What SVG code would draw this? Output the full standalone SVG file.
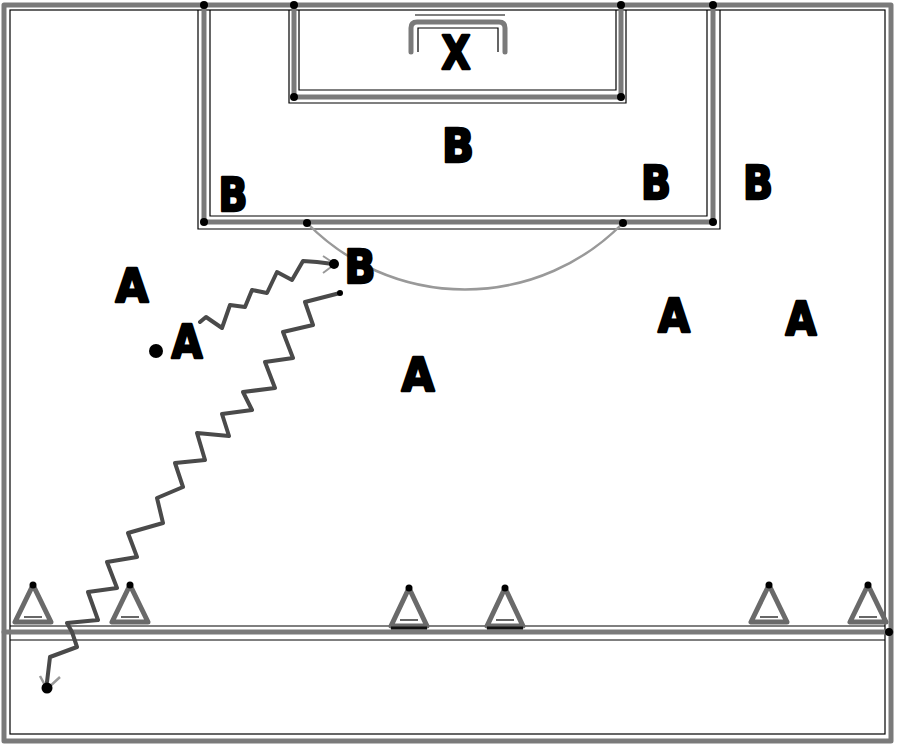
<svg xmlns="http://www.w3.org/2000/svg" width="900" height="747" viewBox="0 0 900 747">
<style>
.g{fill:none;stroke:#7a7a7a;stroke-width:5;stroke-linejoin:round;stroke-linecap:round}
.t{fill:none;stroke:#000;stroke-width:1.2}
.z{fill:none;stroke:#4a4a4a;stroke-width:4;stroke-linejoin:round;stroke-linecap:round}
.d{fill:#000}
.l{font-family:"DejaVu Sans","Liberation Sans",sans-serif;font-weight:bold;font-size:47px;text-anchor:middle;fill:#000;stroke:#000;stroke-width:2.5;stroke-linejoin:round}
.cone{fill:#fff;stroke:#6a6a6a;stroke-width:5;stroke-linejoin:round}
</style>
<rect width="900" height="747" fill="#fff"/>
<g id="field">
<rect class="g" x="4" y="5" width="887" height="736"/>
<rect class="t" x="10" y="10" width="875" height="724"/>
<line class="t" x1="10" y1="626" x2="885" y2="626"/>
<line class="t" x1="10" y1="640" x2="885" y2="640"/>
<line class="g" x1="4" y1="632" x2="891" y2="632"/>
<circle class="d" cx="889" cy="632" r="4"/>
</g>
<g id="penalty-box">
<path class="t" d="M198,10 V229 H720 V10"/>
<path class="t" d="M210,10 V216 H707 V10"/>
<path class="g" d="M204,5 V222 H713 V5"/>
<circle class="d" cx="204" cy="5" r="4"/>
<circle class="d" cx="713" cy="5" r="4"/>
<circle class="d" cx="204" cy="222" r="4"/>
<circle class="d" cx="713" cy="222" r="4"/>
</g>
<g id="goal-area">
<path class="t" d="M289,10 V103 H626 V10"/>
<path class="t" d="M299,10 V90 H616 V10"/>
<path class="g" d="M294,5 V97 H621 V5"/>
<circle class="d" cx="294" cy="5" r="4"/>
<circle class="d" cx="621" cy="5" r="4"/>
<circle class="d" cx="294" cy="97" r="4"/>
<circle class="d" cx="621" cy="97" r="4"/>
</g>
<g id="goal">
<line class="t" x1="415" y1="15" x2="505" y2="15"/>
<path class="t" d="M418,52 V28 H498 V52"/>
<path class="g" d="M411,52 V28 Q411,22 417,22 H499 Q505,22 505,28 V52"/>
<text class="l" x="456" y="69" textLength="29" lengthAdjust="spacingAndGlyphs">X</text>
</g>
<g id="arc">
<path d="M307,223 A221,221 0 0 0 623,223" fill="none" stroke="#999" stroke-width="2.5"/>
<circle class="d" cx="307" cy="223" r="4"/>
<circle class="d" cx="623" cy="223" r="4"/>
</g>
<g id="cones">
<polygon class="cone" points="33,585 15,622 51,622"/>
<polygon class="cone" points="130,585 112,622 148,622"/>
<polygon class="cone" points="409,588 391,626 427,626"/>
<polygon class="cone" points="505,588 487,626 523,626"/>
<polygon class="cone" points="769,585 751,622 787,622"/>
<polygon class="cone" points="868,585 850,622 886,622"/>
<g fill="#000">
<circle cx="33" cy="585" r="3.5"/><circle cx="130" cy="585" r="3.5"/>
<circle cx="409" cy="588" r="3.5"/><circle cx="505" cy="588" r="3.5"/>
<circle cx="769" cy="585" r="3.5"/><circle cx="868" cy="585" r="3.5"/>
</g>
<g class="t">
<line x1="24" y1="617" x2="42" y2="617"/><line x1="121" y1="617" x2="139" y2="617"/>
<line x1="400" y1="620" x2="418" y2="620"/><line x1="496" y1="620" x2="514" y2="620"/>
<line x1="760" y1="617" x2="778" y2="617"/><line x1="859" y1="617" x2="877" y2="617"/>
</g>
<line x1="391" y1="628" x2="427" y2="628" stroke="#111" stroke-width="3"/>
<line x1="487" y1="628" x2="523" y2="628" stroke="#111" stroke-width="3"/>
</g>
<g id="connectors">
<path class="z" d="M200,322 L206,317 L222,328 L230,305 L245,307 L252,290 L267,293 L277,272 L292,280 L303,261 L317,262 L333,264"/>
<path d="M323,256 L335,264 L323,273" fill="none" stroke="#999" stroke-width="2"/>
<circle class="d" cx="334" cy="264" r="5"/>
<path class="z" d="M340,293 L305,302 L313,325 L283,332 L293,358 L265,362 L275,388 L243,392 L252,410 L222,414 L229,436 L197,433 L205,460 L175,463 L183,487 L157,498 L163,523 L128,533 L137,557 L107,562 L117,588 L88,592 L98,620 L67,623 L72,632 L77,647 L50,657 L47,682"/>
<path d="M40,676 L47,689 L60,677" fill="none" stroke="#999" stroke-width="2.5"/>
<circle class="d" cx="47" cy="688" r="5.5"/>
<circle class="d" cx="340" cy="293" r="3"/>
</g>
<g id="players-b">
<text class="l" x="458" y="162" textLength="32" lengthAdjust="spacingAndGlyphs">B</text>
<text class="l" x="233" y="211" textLength="29" lengthAdjust="spacingAndGlyphs">B</text>
<text class="l" x="656" y="199" textLength="30" lengthAdjust="spacingAndGlyphs">B</text>
<text class="l" x="758" y="199" textLength="30" lengthAdjust="spacingAndGlyphs">B</text>
<text class="l" x="360" y="283" textLength="31" lengthAdjust="spacingAndGlyphs">B</text>
</g>
<g id="players-a">
<text class="l" x="132" y="302" textLength="33" lengthAdjust="spacingAndGlyphs">A</text>
<text class="l" x="187" y="358" textLength="31" lengthAdjust="spacingAndGlyphs">A</text>
<circle class="d" cx="156" cy="351" r="7"/>
<text class="l" x="418" y="391" textLength="33" lengthAdjust="spacingAndGlyphs">A</text>
<text class="l" x="674" y="332" textLength="32" lengthAdjust="spacingAndGlyphs">A</text>
<text class="l" x="801" y="335" textLength="31" lengthAdjust="spacingAndGlyphs">A</text>
</g>
</svg>
